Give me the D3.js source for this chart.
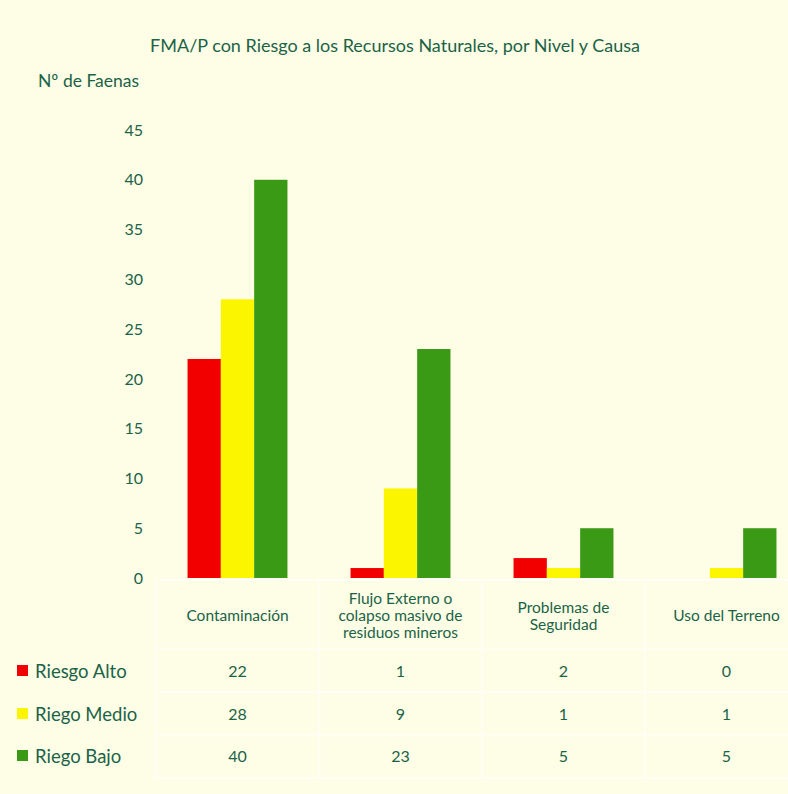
<html>
<head>
<meta charset="utf-8">
<title>FMA/P con Riesgo</title>
<style>
  body { margin: 0; background: #fefde6; }
  text { font-family: Lato, "Open Sans", sans-serif; fill: #1b6347; }
</style>
</head>
<body>
<script src="https://cdn.jsdelivr.net/npm/d3@7/dist/d3.min.js"></script>
<script>
// categorias (una linea por renglon de la etiqueta)
var categories = ["Contaminación", "Flujo Externo", "Problemas de Seguridad", "Uso del Terreno"];
var categoryLines = [
    ["Contaminación"],
    ["Flujo Externo o", "colapso masivo de", "residuos mineros"],
    ["Problemas de", "Seguridad"],
    ["Uso del Terreno"]
];
var seriesNames = ["Riesgo Alto", "Riego Medio", "Riego Bajo"];
var seriesColors = ["#f20000", "#fcf500", "#3a9a16"];
var riesgoAlto = [22, 1, 2, 0];
var riegoMedio = [28, 9, 1, 1];
var riegoBajo = [40, 23, 5, 5];
var yTicks = [0, 5, 10, 15, 20, 25, 30, 35, 40, 45];

var series = [riesgoAlto, riegoMedio, riegoBajo];

var width = 788, height = 794;
var svg = d3.select("body").append("svg")
    .attr("width", width)
    .attr("height", height);

// x: grupos por causa
var xScale = d3.scaleBand()
    .domain(categories)
    .range([156, 808])
    .paddingInner(0.387)
    .paddingOuter(0.1935);

var xInner = d3.scaleBand()
    .domain(d3.range(series.length))
    .range([0, xScale.bandwidth()]);

var yScale = d3.scaleLinear()
    .domain([0, 45])
    .range([578, 130]);

// titulo
svg.append("text")
    .attr("x", 395)
    .attr("y", 52)
    .attr("text-anchor", "middle")
    .style("font-size", "18px")
    .text("FMA/P con Riesgo a los Recursos Naturales, por Nivel y Causa");

svg.append("text")
    .attr("x", 38)
    .attr("y", 87)
    .style("font-size", "17.5px")
    .text("Nº de Faenas");

// eje y (solo etiquetas)
var yAxis = svg.append("g")
    .attr("transform", "translate(146,0)")
    .call(d3.axisLeft(yScale).tickValues(yTicks).tickSize(0).tickPadding(3));
yAxis.select(".domain").remove();
yAxis.selectAll("text")
    .style("font-size", "16px")
    .style("font-family", "Lato, sans-serif")
    .attr("fill", "#1b6347");

// barras
var groups = svg.selectAll("g.grupo")
    .data(categories)
    .enter()
    .append("g")
    .attr("class", "grupo")
    .attr("transform", function(d) { return "translate(" + xScale(d) + ",0)"; });

groups.selectAll("rect")
    .data(function(d, ci) {
        return series.map(function(s, si) { return {si: si, v: s[ci]}; });
    })
    .enter()
    .append("rect")
    .attr("x", function(d) { return xInner(d.si); })
    .attr("width", xInner.bandwidth())
    .attr("y", function(d) { return yScale(d.v); })
    .attr("height", function(d) { return yScale(0) - yScale(d.v); })
    .attr("fill", function(d) { return seriesColors[d.si]; });

// tabla: lineas blancas tenues
var step = xScale.step();
var colEdges = categories.map(function(c) { return xScale(c) + xScale.bandwidth() / 2 - step / 2; });
var gridY = [580, 649, 692, 735, 778];
var grid = svg.append("g").attr("stroke", "#ffffff").attr("stroke-width", 2.5).attr("opacity", 0.55);
grid.selectAll("line.h")
    .data(gridY)
    .enter()
    .append("line")
    .attr("x1", colEdges[0])
    .attr("x2", width)
    .attr("y1", function(d) { return d; })
    .attr("y2", function(d) { return d; });
grid.selectAll("line.v")
    .data(colEdges)
    .enter()
    .append("line")
    .attr("x1", function(d) { return d; })
    .attr("x2", function(d) { return d; })
    .attr("y1", 580)
    .attr("y2", 778);

// encabezados de columna
var header = svg.selectAll("text.cat")
    .data(categoryLines)
    .enter()
    .append("text")
    .attr("class", "cat")
    .attr("text-anchor", "middle")
    .style("font-size", "15.5px")
    .attr("x", function(d, i) { return xScale(categories[i]) + xScale.bandwidth() / 2; })
    .attr("y", function(d) { return 621 - (d.length - 1) * 8.5; });
header.selectAll("tspan")
    .data(function(d) { return d; })
    .enter()
    .append("tspan")
    .attr("x", function() { return d3.select(this.parentNode).attr("x"); })
    .attr("dy", function(d, i) { return i === 0 ? 0 : 17; })
    .text(function(d) { return d; });

// filas de la tabla
var rowY = [671, 714, 756];
var rows = svg.selectAll("g.fila")
    .data(series)
    .enter()
    .append("g")
    .attr("class", "fila")
    .attr("transform", function(d, i) { return "translate(0," + rowY[i] + ")"; });

rows.append("rect")
    .attr("x", 17)
    .attr("y", -6)
    .attr("width", 11)
    .attr("height", 11)
    .attr("fill", function(d, i) { return seriesColors[i]; });

rows.append("text")
    .attr("x", 35)
    .attr("y", 6.5)
    .style("font-size", "18.5px")
    .text(function(d, i) { return seriesNames[i]; });

rows.selectAll("text.val")
    .data(function(d) { return d; })
    .enter()
    .append("text")
    .attr("class", "val")
    .attr("text-anchor", "middle")
    .attr("x", function(d, i) { return xScale(categories[i]) + xScale.bandwidth() / 2; })
    .attr("y", 6)
    .style("font-size", "16px")
    .text(function(d) { return d; });
</script>
</body>
</html>
